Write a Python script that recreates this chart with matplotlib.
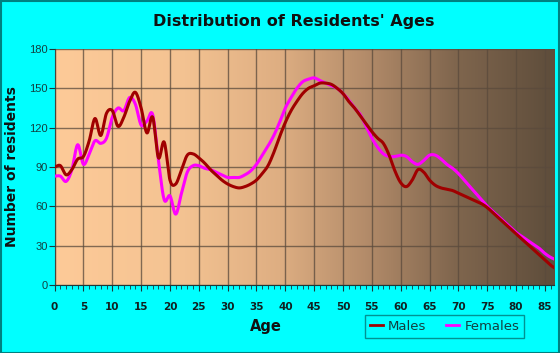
import numpy as np
import matplotlib
matplotlib.use('Agg')
import matplotlib.pyplot as plt
from matplotlib.colors import LinearSegmentedColormap

ages = list(range(0, 88))
males = [90, 91, 84, 88, 96, 98, 110, 127, 114, 131, 133, 121, 128, 140, 147, 135,
         116, 128, 97, 109, 80, 77, 88, 99, 100, 97, 93, 88, 84, 80, 77, 75,
         74, 75, 77, 80, 85, 91, 101, 113, 124, 133, 140, 146, 150, 152, 154, 154,
         153, 150, 146, 140, 135, 129, 123, 117, 112, 108, 99, 87, 78, 75, 80, 88,
         86, 80, 76, 74, 73, 72, 70, 68, 66, 64, 62, 59, 55, 51, 47, 43,
         39, 35, 31, 27, 23, 19, 15, 12]
females = [83, 83, 79, 88, 107, 92, 100, 110, 108, 112, 128, 135, 133, 143, 138, 122,
           125, 130, 95, 65, 68, 54, 70, 86, 91, 91, 89, 88, 86, 84, 82, 82,
           82, 84, 87, 92, 99, 106, 114, 124, 135, 143, 150, 155, 157, 158, 156, 154,
           152, 150, 146, 141, 135, 130, 121, 112, 105, 100, 98, 98, 99, 98, 94, 92,
           95, 99, 99, 96, 92, 89, 85, 80, 75, 70, 65, 60, 56, 52, 48, 44,
           40, 37, 34, 31, 28, 24, 21, 19]
xticks = list(range(0, 90, 5))
yticks = [0, 30, 60, 90, 120, 150, 180]


def smooth(x, y, n=12):
    # catmull-rom curve through the points, just for drawing
    x = np.asarray(x, float)
    y = np.asarray(y, float)
    px = np.concatenate([[2 * x[0] - x[1]], x, [2 * x[-1] - x[-2]]])
    py = np.concatenate([[2 * y[0] - y[1]], y, [2 * y[-1] - y[-2]]])
    t = np.linspace(0, 1, n, endpoint=False)
    xs, ys = [], []
    for i in range(1, len(px) - 2):
        for p, out in ((px, xs), (py, ys)):
            p0, p1, p2, p3 = p[i - 1], p[i], p[i + 1], p[i + 2]
            out.extend(0.5 * (2 * p1 + (-p0 + p2) * t
                              + (2 * p0 - 5 * p1 + 4 * p2 - p3) * t ** 2
                              + (-p0 + 3 * p1 - 3 * p2 + p3) * t ** 3))
    xs.append(x[-1])
    ys.append(y[-1])
    return np.array(xs), np.array(ys)


bg = '#00FFFF'
fig = plt.figure(figsize=(5.6, 3.53), dpi=100, facecolor=bg)
ax = fig.add_axes([0.0975, 0.193, 0.892, 0.668])

cmap = LinearSegmentedColormap.from_list('bg', [
    (0.0, (253/255, 202/255, 152/255)),
    (0.25, (244/255, 195/255, 146/255)),
    (0.45, (222/255, 174/255, 130/255)),
    (0.62, (180/255, 140/255, 106/255)),
    (0.8, (128/255, 102/255, 78/255)),
    (1.0, (94/255, 77/255, 59/255))])
xmax = 86.6
ax.imshow(np.linspace(0, 1, 256)[None, :], cmap=cmap, aspect='auto',
          extent=[0, xmax, 0, 180], zorder=0)

ax.set_xlim(0, xmax)
ax.set_ylim(0, 180)
ax.set_xticks(xticks)
ax.set_xticks(range(0, 87), minor=True)
ax.set_yticks(yticks)
ax.grid(True, color='#5a4a3c', linewidth=1, alpha=0.75, zorder=1)
ax.set_axisbelow(False)

mx, my = smooth(ages, males)
fx, fy = smooth(ages, females)
ax.plot(fx, fy, color='#FF00FF', linewidth=2.2, zorder=3, label='Females')
ax.plot(mx, my, color='#A00000', linewidth=2.2, zorder=4, label='Males')

for s in ax.spines.values():
    s.set_visible(False)
ax.spines['left'].set_visible(True)
ax.spines['bottom'].set_visible(True)
ax.spines['left'].set_color('#1a3a3a')
ax.spines['bottom'].set_color('#1a3a3a')

ax.tick_params(axis='y', length=4, color='#1a3a3a', labelsize=8, labelcolor='#124040', pad=1)
ax.tick_params(axis='x', which='major', length=4, color='#1a3a3a', labelsize=7.5, pad=8)
ax.tick_params(axis='x', which='minor', length=3, color='#1a3a3a')
for lab in ax.get_xticklabels():
    lab.set_fontweight('bold')
    lab.set_color('#102020')
for lab in ax.get_yticklabels():
    lab.set_family('Liberation Sans')

fig.text(0.525, 0.94, "Distribution of Residents' Ages", ha='center', va='center',
         fontsize=11.5, fontweight='bold', color='#111111')
fig.text(0.475, 0.075, 'Age', ha='center', va='center', fontsize=10.5,
         fontweight='bold', color='#111111')
fig.text(0.022, 0.527, 'Number of residents', ha='center', va='center', rotation=90,
         fontsize=10, fontweight='bold', color='#111111')

h, l = ax.get_legend_handles_labels()
leg = fig.legend(h[::-1], l[::-1], loc='center', bbox_to_anchor=(0.794, 0.075), ncol=2,
                 frameon=True, fancybox=False, fontsize=9.5, handlelength=1.0,
                 handletextpad=0.4, columnspacing=1.5, borderpad=0.35)
leg.get_frame().set_facecolor(bg)
leg.get_frame().set_edgecolor('#007878')
leg.get_frame().set_linewidth(1)
for t in leg.get_texts():
    t.set_color('#124040')
for line in leg.get_lines():
    line.set_linewidth(2)

fig.patches.append(plt.Rectangle((0.001, 0.001), 0.998, 0.997, transform=fig.transFigure,
                                 fill=False, edgecolor='#008080', linewidth=1.5))

fig.savefig('out.png', dpi=100, facecolor=bg)
